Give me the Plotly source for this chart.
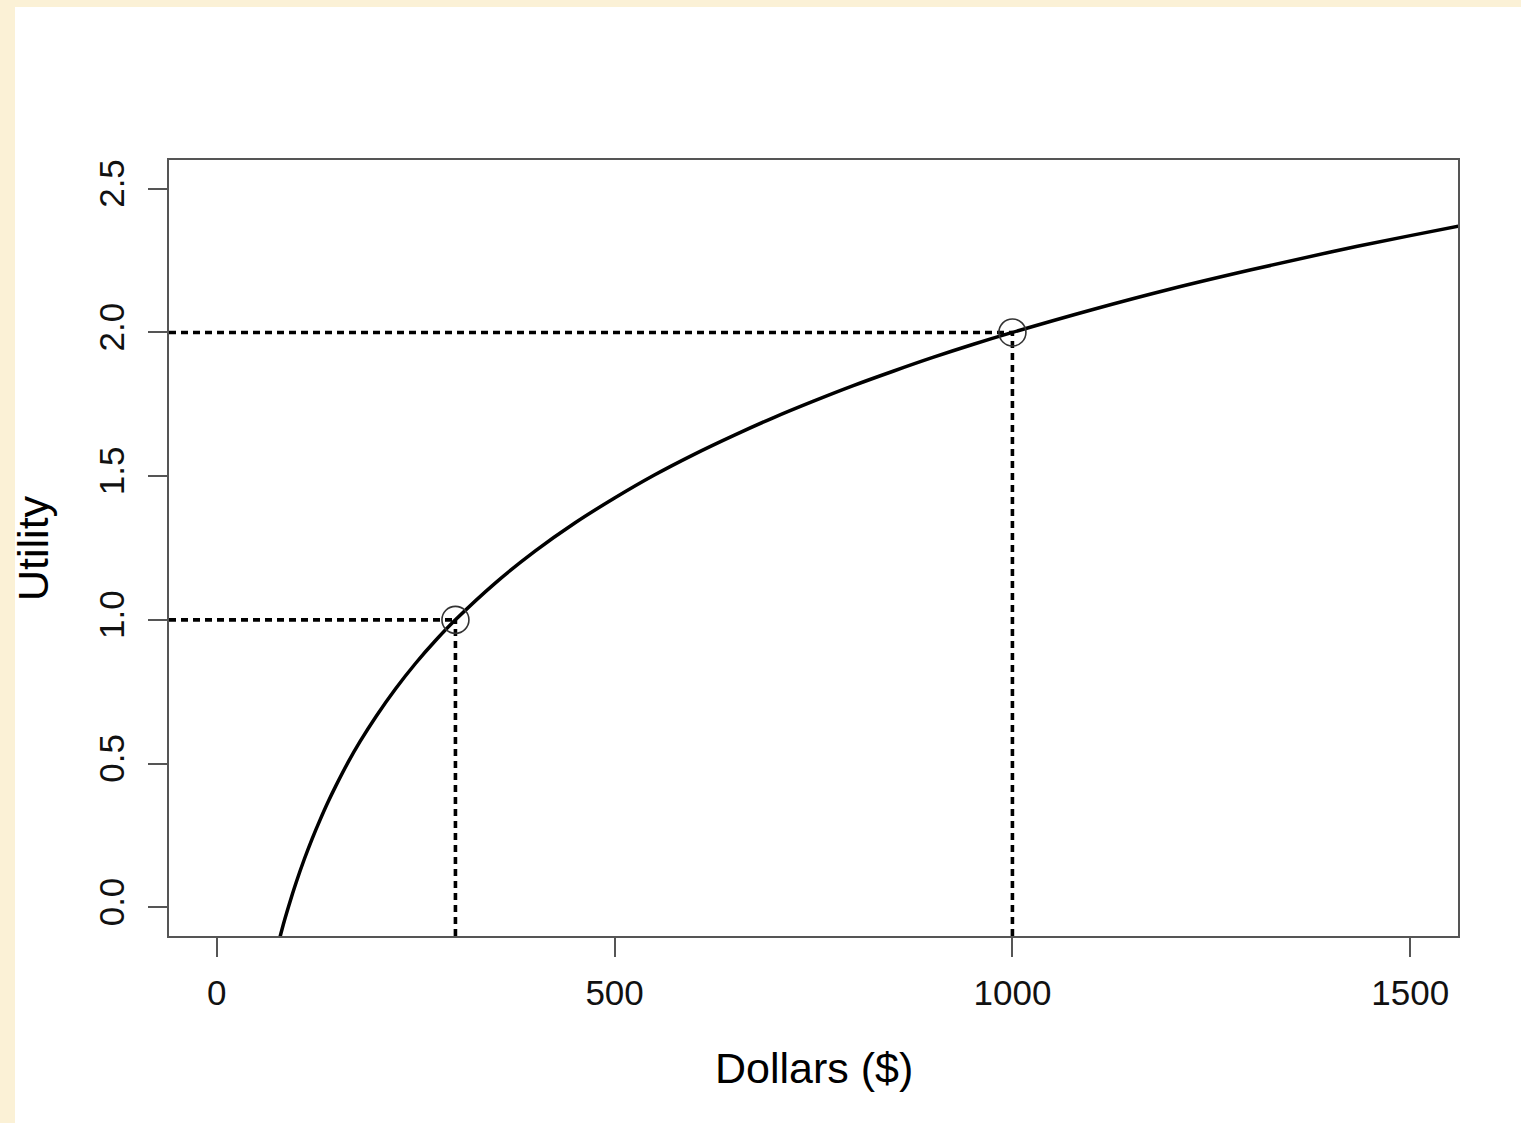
import plotly.graph_objects as go

# Utility curve
curve_x = [78, 80, 85, 90, 95, 100, 110, 120, 130, 140, 150, 165, 180, 200, 225, 250,
           275, 300, 350, 400, 450, 500, 550, 600, 650, 700, 750, 800, 850, 900, 950,
           1000, 1100, 1200, 1300, 1400, 1500, 1570]
curve_y = [-0.119, -0.098, -0.047, 0.000, 0.045, 0.088, 0.167, 0.239, 0.305, 0.367,
           0.424, 0.504, 0.576, 0.663, 0.761, 0.849, 0.928, 1.000, 1.128, 1.239,
           1.337, 1.424, 1.504, 1.576, 1.642, 1.704, 1.761, 1.815, 1.865, 1.913,
           1.958, 2.000, 2.079, 2.152, 2.218, 2.280, 2.337, 2.375]

# Marked points
point_x = [300, 1000]
point_y = [1.0, 2.0]

x_ticks = [0, 500, 1000, 1500]
x_tick_labels = ["0", "500", "1000", "1500"]
y_ticks = [0.0, 0.5, 1.0, 1.5, 2.0, 2.5]
y_tick_labels = ["0.0", "0.5", "1.0", "1.5", "2.0", "2.5"]

x_range = [-60, 1560]
y_range = [-0.1, 2.6]

FONT = "Liberation Sans, Arial, Helvetica, sans-serif"
W, H = 1521, 1123
L, R, T, B = 169, 63, 160, 187
PW, PH = W - L - R, H - T - B

fig = go.Figure()

# dotted guide lines
for px, py in zip(point_x, point_y):
    fig.add_trace(go.Scatter(x=[x_range[0], px], y=[py, py], mode="lines",
                             line=dict(color="black", width=3.6, dash="7px,5px"),
                             hoverinfo="skip", showlegend=False))
    fig.add_trace(go.Scatter(x=[px, px], y=[y_range[0], py], mode="lines",
                             line=dict(color="black", width=3.6, dash="7px,5px"),
                             hoverinfo="skip", showlegend=False))

fig.add_trace(go.Scatter(x=curve_x, y=curve_y, mode="lines",
                         line=dict(color="black", width=3.5, shape="spline", smoothing=1),
                         showlegend=False))

fig.add_trace(go.Scatter(x=point_x, y=point_y, mode="markers",
                         marker=dict(symbol="circle-open", size=27,
                                     line=dict(color="#333333", width=1.6), color="#333333"),
                         showlegend=False))

def px2x(p):
    return (p - L) / PW

def py2y(p):
    return (H - B - p) / PH

# white drawing panel on cream page
fig.add_shape(type="rect", xref="paper", yref="paper",
              x0=px2x(15), x1=px2x(W + 5), y0=py2y(H + 5), y1=py2y(7),
              fillcolor="white", line=dict(width=0), layer="below")

fig.add_annotation(text="Dollars ($)", xref="paper", yref="paper",
                   x=0.5, y=py2y(1068), xanchor="center", yanchor="middle",
                   showarrow=False, font=dict(family=FONT, size=43, color="black"))
fig.add_annotation(text="Utility", xref="paper", yref="paper",
                   x=px2x(33), y=0.5, xanchor="center", yanchor="middle",
                   textangle=-90, showarrow=False,
                   font=dict(family=FONT, size=43, color="black"))

axis_common = dict(showgrid=False, zeroline=False, showline=True, mirror=True,
                   linecolor="#555555", linewidth=2, ticks="outside", ticklen=19,
                   tickwidth=1.6, tickcolor="#555555",
                   tickfont=dict(family=FONT, size=35, color="#111111"))

fig.update_layout(
    width=W, height=H,
    margin=dict(l=L, r=R, t=T, b=B),
    paper_bgcolor="#FBF1D6",
    plot_bgcolor="white",
    xaxis=dict(range=x_range, tickvals=x_ticks, ticktext=x_tick_labels,
               ticklabelstandoff=6, **axis_common),
    yaxis=dict(range=y_range, tickvals=y_ticks, ticktext=y_tick_labels,
               tickangle=-90, ticklabelstandoff=10, **axis_common),
)

fig.write_html("out.html", config={"displayModeBar": False},
               post_script="document.body.style.margin='0';document.body.style.padding='0';")
